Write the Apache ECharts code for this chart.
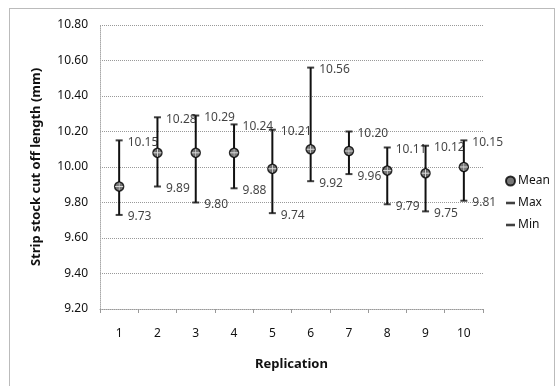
<!DOCTYPE html>
<html><head><meta charset="utf-8">
<script src="https://cdn.jsdelivr.net/npm/echarts@6/dist/echarts.min.js"></script>
<style>html,body{margin:0;padding:0;background:#fff}#c{width:557px;height:386px}</style>
</head><body><div id="c"></div>
<script>
const categories = ['1','2','3','4','5','6','7','8','9','10'];
const meanValues = [9.89, 10.08, 10.08, 10.08, 9.99, 10.10, 10.09, 9.98, 9.965, 10.00];
const maxValues = [10.15, 10.28, 10.29, 10.24, 10.21, 10.56, 10.20, 10.11, 10.12, 10.15];
const minValues = [9.73, 9.89, 9.80, 9.88, 9.74, 9.92, 9.96, 9.79, 9.75, 9.81];
const yTicks = {min: 9.2, max: 10.8, interval: 0.2};

const chart = echarts.init(document.getElementById('c'), null, {renderer: 'canvas'});
const font = '"Noto Sans", "DejaVu Sans", sans-serif';
const barData = categories.map((c, i) => [i, minValues[i], maxValues[i]]);
const lblStyle = {show: true, position: 'right', distance: 5, color: '#111', fontSize: 12, fontFamily: font,
  formatter: p => p.value[1].toFixed(2), offset: [0, 2]};
const dash = 'path://M0,0H7V2H0Z';
chart.setOption({
  animation: false,
  textStyle: {fontFamily: font},
  graphic: [{type: 'rect', shape: {x: 9.5, y: 8.5, width: 545, height: 390}, style: {fill: 'none', stroke: '#777', lineWidth: 1, lineDash: [1, 1]}, silent: true}],
  grid: {left: 100, right: 74, top: 25, bottom: 77},
  legend: {
    orient: 'vertical', left: 500, top: 170, itemGap: 10, itemWidth: 9, itemHeight: 9,
    textStyle: {fontSize: 12, color: '#111', fontFamily: font, padding: [0, 0, 0, -2]},
    data: [{name: 'Mean', icon: 'circle'}, {name: 'Max', icon: dash}, {name: 'Min', icon: dash}]
  },
  xAxis: {
    type: 'category', data: categories, boundaryGap: true,
    name: 'Replication', nameLocation: 'middle', nameGap: 49,
    nameTextStyle: {fontSize: 13, fontWeight: 'bold', color: '#111', fontFamily: font},
    axisLine: {lineStyle: {color: '#999', type: 'dotted'}},
    axisTick: {show: true, length: 4, lineStyle: {color: '#999'}},
    axisLabel: {margin: 19, fontSize: 12, color: '#111', fontFamily: font}
  },
  yAxis: {
    type: 'value', min: yTicks.min, max: yTicks.max, interval: yTicks.interval,
    name: 'Strip stock cut off length (mm)', nameLocation: 'middle', nameGap: 57,
    nameTextStyle: {fontSize: 13, fontWeight: 'bold', color: '#111', fontFamily: font},
    axisLine: {show: true, lineStyle: {color: '#aaa', type: 'dotted'}},
    axisTick: {show: false},
    axisLabel: {margin: 12, fontSize: 12, color: '#111', fontFamily: font, formatter: v => v.toFixed(2)},
    splitLine: {lineStyle: {color: '#999', type: 'dotted'}}
  },
  series: [
    {
      type: 'custom', name: 'bars', z: 2,
      renderItem: (params, api) => {
        const a = api.coord([api.value(0), api.value(1)]);
        const b = api.coord([api.value(0), api.value(2)]);
        return {type: 'line', shape: {x1: a[0], y1: a[1], x2: b[0], y2: b[1]}, style: {stroke: '#111', lineWidth: 2}};
      },
      encode: {x: 0, y: [1, 2]},
      data: barData
    },
    {
      type: 'scatter', name: 'Max', z: 3, symbol: 'rect', symbolSize: [7, 2],
      itemStyle: {color: '#111'},
      label: lblStyle,
      data: categories.map((c, i) => [i, maxValues[i]])
    },
    {
      type: 'scatter', name: 'Min', z: 3, symbol: 'rect', symbolSize: [7, 2],
      itemStyle: {color: '#111'},
      label: lblStyle,
      data: categories.map((c, i) => [i, minValues[i]])
    },
    {
      type: 'scatter', name: 'Mean', z: 4, symbol: 'circle', symbolSize: 9,
      itemStyle: {color: '#555', borderColor: '#000', borderWidth: 1.5},
      data: categories.map((c, i) => [i, meanValues[i]])
    },
    {
      type: 'custom', name: 'cross', z: 5,
      renderItem: (params, api) => {
        const p = api.coord([api.value(0), api.value(1)]);
        return {type: 'group', children: [
          {type: 'line', shape: {x1: p[0] - 4, y1: p[1], x2: p[0] + 4, y2: p[1]}, style: {stroke: '#ddd', lineWidth: 1}},
          {type: 'line', shape: {x1: p[0], y1: p[1] - 4, x2: p[0], y2: p[1] + 4}, style: {stroke: '#ddd', lineWidth: 1}}
        ]};
      },
      encode: {x: 0, y: 1},
      data: categories.map((c, i) => [i, meanValues[i]])
    }
  ]
});
</script></body></html>
